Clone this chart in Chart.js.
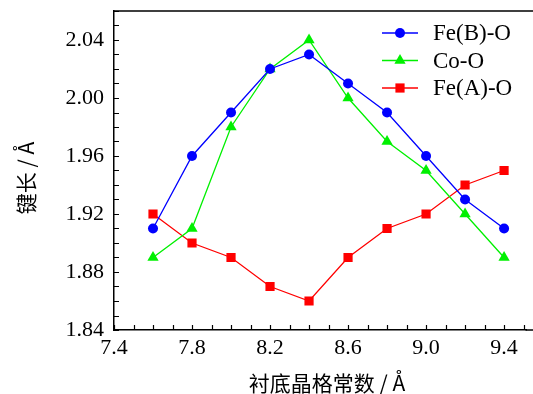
<!DOCTYPE html>
<html>
<head>
<meta charset="utf-8">
<script src="https://cdn.jsdelivr.net/npm/chart.js@4/dist/chart.umd.min.js"></script>
<style>
  html, body { margin: 0; padding: 0; background: #fff; }
  #wrap { width: 533px; height: 394px; }
</style>
</head>
<body>
<div id="wrap"><canvas id="lineChart" width="533" height="394"></canvas></div>
<script>
var latticeConst = [7.6, 7.8, 8.0, 8.2, 8.4, 8.6, 8.8, 9.0, 9.2, 9.4];
var feBO = [1.91, 1.96, 1.99, 2.02, 2.03, 2.01, 1.99, 1.96, 1.93, 1.91];
var coO  = [1.89, 1.91, 1.98, 2.02, 2.04, 2.00, 1.97, 1.95, 1.92, 1.89];
var feAO = [1.92, 1.90, 1.89, 1.87, 1.86, 1.89, 1.91, 1.92, 1.94, 1.95];
var seriesNames = ['Fe(B)-O', 'Co-O', 'Fe(A)-O'];
var xTicks = [7.4, 7.8, 8.2, 8.6, 9.0, 9.4];
var yTicks = [1.84, 1.88, 1.92, 1.96, 2.00, 2.04];
var xTitle = '衬底晶格常数 / Å';
var yTitle = '键长 / Å';

var serif = '"Liberation Serif", "Times New Roman", serif';

function pts(ys) {
    return latticeConst.map(function (x, i) { return {x: x, y: ys[i]}; });
}

function makeSet(label, ys, color, style, r) {
    return {
        label: label,
        data: pts(ys),
        borderColor: color,
        backgroundColor: color,
        pointBackgroundColor: color,
        pointBorderColor: color,
        pointStyle: style,
        pointRadius: r,
        pointHoverRadius: r,
        borderWidth: 1.3,
        pointBorderWidth: 0,
        tension: 0,
    };
}

var data = {
    datasets: [
        makeSet(seriesNames[0], feBO, '#0000ff', 'circle', 5),
        makeSet(seriesNames[1], coO, '#00f000', 'triangle', 6.5),
        makeSet(seriesNames[2], feAO, '#ff0000', 'rect', 6.5),
    ]
};

// inward ticks, frame lines running to the canvas edge, titles and legend
var decor = {
    id: 'decor',
    afterDraw: function (chart) {
        var ctx = chart.ctx;
        var a = chart.chartArea;
        var xs = chart.scales.x, ys = chart.scales.y;
        var edge = chart.width;
        ctx.save();
        ctx.strokeStyle = '#000';
        ctx.lineWidth = 1.5;
        ctx.beginPath();
        ctx.moveTo(a.left, a.top);
        ctx.lineTo(edge, a.top);
        ctx.moveTo(a.right - 1, a.bottom);
        ctx.lineTo(edge, a.bottom);
        ctx.stroke();

        ctx.lineWidth = 1.2;
        ctx.beginPath();
        for (var i = 0; ; i++) {
            var v = 7.4 + i * 0.1;
            var px = Math.round(xs.getPixelForValue(v)) + 0.5;
            if (px > edge) break;
            ctx.moveTo(px, a.bottom);
            ctx.lineTo(px, a.bottom - 5);
        }
        for (var j = 0; ; j++) {
            var w = 1.84 + j * 0.01;
            if (w > ys.max + 1e-9) break;
            var py = Math.round(ys.getPixelForValue(w)) + 0.5;
            ctx.moveTo(a.left, py);
            ctx.lineTo(a.left + 5, py);
        }
        ctx.stroke();

        // axis titles
        ctx.fillStyle = '#000';
        ctx.textAlign = 'center';
        ctx.textBaseline = 'middle';
        ctx.font = '21px "Noto Sans CJK SC", ' + serif;
        ctx.fillText(xTitle, 327, 383);
        ctx.save();
        ctx.translate(26, 178);
        ctx.rotate(-Math.PI / 2);
        ctx.fillText(yTitle, 0, 0);
        ctx.restore();

        // legend
        ctx.font = '23px ' + serif;
        ctx.textAlign = 'left';
        chart.data.datasets.forEach(function (ds, k) {
            var y = 33 + k * 27.5;
            ctx.strokeStyle = ds.borderColor;
            ctx.lineWidth = 1.3;
            ctx.beginPath();
            ctx.moveTo(382, y);
            ctx.lineTo(418, y);
            ctx.stroke();
            ctx.fillStyle = ds.borderColor;
            Chart.helpers.drawPoint(ctx, {
                pointStyle: ds.pointStyle,
                radius: ds.pointRadius,
                borderWidth: 0,
                rotation: 0
            }, 400, y);
            ctx.fillStyle = '#000';
            ctx.fillText(ds.label, 433, y + 1);
        });
        ctx.restore();
    }
};

var lineConfig = {
    type: 'line',
    data: data,
    options: {
        responsive: false,
        animation: false,
        layout: { padding: { top: 11, right: 0, left: 0, bottom: 0 } },
        plugins: {
            legend: { display: false },
            tooltip: { enabled: false },
        },
        scales: {
            x: {
                type: 'linear',
                min: 7.4,
                max: 9.515,
                afterBuildTicks: function (s) { s.ticks = xTicks.map(function (v) { return {value: v}; }); },
                afterFit: function (s) { s.height = 64; s.paddingLeft = 0; s.paddingRight = 0; },
                grid: { display: false, drawTicks: false },
                border: { display: true, color: '#000', width: 1.5 },
                ticks: {
                    padding: 5,
                    color: '#000',
                    font: { family: serif, size: 22 },
                    maxRotation: 0,
                    callback: function (v) { return v.toFixed(1); },
                },
            },
            y: {
                type: 'linear',
                min: 1.84,
                max: 2.06,
                afterBuildTicks: function (s) { s.ticks = yTicks.map(function (v) { return {value: v}; }); },
                afterFit: function (s) { s.width = 114; s.paddingTop = 0; s.paddingBottom = 0; },
                grid: { display: false, drawTicks: false },
                border: { display: true, color: '#000', width: 1.5 },
                ticks: {
                    padding: 10,
                    color: '#000',
                    font: { family: serif, size: 22 },
                    callback: function (v) { return v.toFixed(2); },
                },
            },
        },
    },
    plugins: [decor],
};

var lineChart = new Chart(document.getElementById('lineChart'), lineConfig);
</script>
</body>
</html>
